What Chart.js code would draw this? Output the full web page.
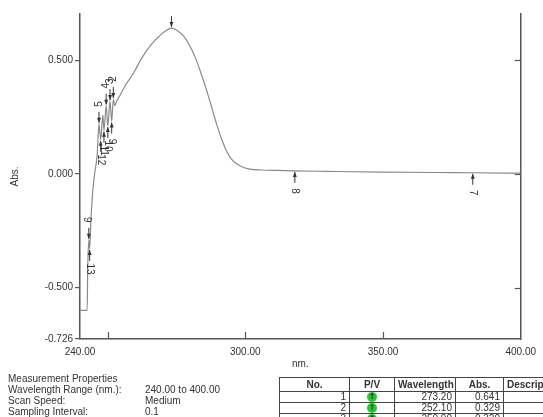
<!DOCTYPE html>
<html>
<head>
<meta charset="utf-8">
<script src="https://cdn.jsdelivr.net/npm/chart.js@4.4.0/dist/chart.umd.min.js"></script>
<style>
  body { margin: 0; background: #fff; }
  #wrap { position: relative; width: 543px; height: 417px; overflow: hidden; font-family: 'Liberation Sans', Arial, sans-serif; color: #333; }
  #graph { position: absolute; left: 0; top: 0; }
  .props { position: absolute; left: 8px; top: 373px; font-size: 10px; line-height: 11px; white-space: nowrap; }
  .props .val { position: absolute; left: 137px; }
  table.peaks { position: absolute; left: 279px; top: 377px; border-collapse: collapse; font-size: 10px; table-layout: fixed; width: 320px; }
  table.peaks th, table.peaks td { border: 1px solid #444; padding: 0 3px; height: 10px; line-height: 10px; white-space: nowrap; overflow: hidden; }
  table.peaks th { height: 13px; font-weight: bold; text-align: center; }
  table.peaks td { text-align: right; }
  table.peaks td.pv { text-align: center; }
  .dot { display: inline-block; width: 10px; height: 10px; border-radius: 50%; background: #2fc42f; color: #043; font-size: 8px; line-height: 10px; text-align: center; font-weight: bold; vertical-align: top; font-family: 'DejaVu Sans', sans-serif; }
</style>
</head>
<body>
<div id="wrap">
  <canvas id="graph" width="543" height="417"></canvas>
  <div class="props">
    <div>Measurement Properties</div>
    <div>Wavelength Range (nm.):<span class="val">240.00 to 400.00</span></div>
    <div>Scan Speed:<span class="val">Medium</span></div>
    <div>Sampling Interval:<span class="val">0.1</span></div>
  </div>
  <table class="peaks" id="peakTable">
    <colgroup><col style="width:70px"><col style="width:45px"><col style="width:61px"><col style="width:48px"><col style="width:96px"></colgroup>
    <tr><th>No.</th><th>P/V</th><th>Wavelength</th><th>Abs.</th><th style="text-align:left">Description</th></tr>
  </table>
</div>
<script>
// spectrum
const wavelengths = [240.0, 242.6, 242.8, 243.2, 243.5, 243.9, 244.6, 245.3, 246.2, 246.9, 247.5, 248.3, 248.7, 249.5, 250.1, 250.9, 251.5, 252.1, 252.6, 253.3, 254.5, 256.5, 259.3, 262.0, 264.2, 267.0, 269.0, 271.0, 273.2, 275.0, 277.5, 280.0, 282.3, 284.0, 286.0, 288.0, 289.6, 291.5, 293.2, 295.0, 297.0, 299.0, 301.7, 306.0, 312.0, 318.0, 330.0, 350.0, 370.0, 382.6, 400.0];
const absorbance = [-0.600, -0.600, -0.420, -0.290, -0.330, -0.220, -0.080, 0.000, 0.080, 0.220, 0.150, 0.260, 0.190, 0.300, 0.210, 0.320, 0.230, 0.329, 0.300, 0.320, 0.345, 0.390, 0.440, 0.500, 0.542, 0.585, 0.608, 0.628, 0.641, 0.633, 0.608, 0.560, 0.498, 0.440, 0.366, 0.285, 0.219, 0.150, 0.101, 0.065, 0.043, 0.030, 0.021, 0.017, 0.015, 0.013, 0.011, 0.008, 0.006, 0.005, 0.003];

// peak / valley markers
const markerNo = [1, 2, 3, 4, 5, 6, 7, 8, 9, 10, 11, 12, 13];
const markerNm = [273.2, 252.1, 250.9, 249.5, 246.9, 243.2, 382.6, 318.0, 251.5, 250.1, 248.7, 247.5, 243.5];
const markerAbs = [0.641, 0.329, 0.320, 0.300, 0.220, -0.290, 0.005, 0.013, 0.230, 0.210, 0.190, 0.150, -0.330];
const markerUp = [true, true, true, true, true, true, false, false, false, false, false, false, false];

// axis ticks
const xTickLabels = [240, 300, 350, 400];
const xInnerTicks = [250, 300, 350];
const yTickLabels = [-0.726, -0.5, 0, 0.5];
const yRightTicks = [0.5, 0, -0.5];

// peak table rows
const tableNo = [1, 2, 3];
const tableNm = [273.20, 252.10, 250.90];
const tableAbs = [0.641, 0.329, 0.320];

const table = document.getElementById('peakTable');
tableNo.forEach(function(n, i) {
    const tr = document.createElement('tr');
    tr.innerHTML = '<td>' + n + '</td><td class="pv"><span class="dot">&#8593;</span></td><td>' +
        tableNm[i].toFixed(2) + '</td><td>' + tableAbs[i].toFixed(3) + '</td><td></td>';
    table.appendChild(tr);
});

Chart.defaults.font.family = "'Liberation Sans', Arial, sans-serif";
Chart.defaults.font.size = 10;
Chart.defaults.color = '#333';

const axisColor = '#555';

// inward ticks + peak arrows
const decor = {
    id: 'decor',
    afterDatasetsDraw(chart) {
        const ctx = chart.ctx;
        const xs = chart.scales.x, ys = chart.scales.y;
        const area = chart.chartArea;
        ctx.save();
        ctx.strokeStyle = axisColor;
        ctx.lineWidth = 1.2;
        xInnerTicks.forEach(function(v) {
            const px = Math.round(xs.getPixelForValue(v)) + 0.5;
            ctx.beginPath(); ctx.moveTo(px, area.bottom); ctx.lineTo(px, area.bottom - 7); ctx.stroke();
        });
        yRightTicks.forEach(function(v) {
            const py = Math.round(ys.getPixelForValue(v)) + 0.5;
            ctx.beginPath(); ctx.moveTo(area.right, py); ctx.lineTo(area.right - 6, py); ctx.stroke();
        });

        ctx.strokeStyle = '#333';
        ctx.fillStyle = '#333';
        ctx.lineWidth = 1;
        ctx.font = "10px 'Liberation Sans', Arial, sans-serif";
        ctx.textAlign = 'center';
        ctx.textBaseline = 'middle';
        markerNo.forEach(function(n, i) {
            const px = xs.getPixelForValue(markerNm[i]);
            const py = ys.getPixelForValue(markerAbs[i]);
            const dir = markerUp[i] ? -1 : 1;
            const tip = py + dir * 1;
            const tail = py + dir * 12;
            ctx.beginPath(); ctx.moveTo(px, tail); ctx.lineTo(px, tip); ctx.stroke();
            ctx.beginPath();
            ctx.moveTo(px, tip);
            ctx.lineTo(px - 2, tip + dir * 5);
            ctx.lineTo(px + 2, tip + dir * 5);
            ctx.closePath(); ctx.fill();
            const ly = py + dir * 20;
            if (ly < area.top) return;
            ctx.save();
            ctx.translate(px, ly);
            ctx.rotate(markerUp[i] ? -Math.PI / 2 : Math.PI / 2);
            ctx.fillText(String(n), 0, 0);
            ctx.restore();
        });
        ctx.restore();
    }
};

const chart = new Chart(document.getElementById('graph'), {
    type: 'line',
    data: {
        datasets: [{
            data: wavelengths.map(function(w, i) { return {x: w, y: absorbance[i]}; }),
            borderColor: '#8a8a8a',
            borderWidth: 1.2,
            pointRadius: 0,
            cubicInterpolationMode: 'monotone',
            fill: false
        }]
    },
    options: {
        responsive: false,
        animation: false,
        layout: { padding: { top: 14, right: 22, bottom: 47, left: 0 } },
        plugins: { legend: { display: false }, tooltip: { enabled: false } },
        scales: {
            x: {
                type: 'linear',
                min: 240, max: 400,
                afterBuildTicks: function(scale) { scale.ticks = xTickLabels.map(function(v) { return {value: v}; }); },
                afterFit: function(scale) { scale.height = 31; },
                ticks: { padding: 7, maxRotation: 0, autoSkip: false, callback: function(v) { return v.toFixed(2); } },
                grid: { display: true, drawOnChartArea: false, drawTicks: false, color: axisColor },
                border: { color: axisColor, width: 1.5 },
                title: { display: true, text: 'nm.', padding: { top: 0, bottom: 0 }, font: { size: 10 } }
            },
            y: {
                type: 'linear',
                min: -0.726, max: 0.703,
                afterBuildTicks: function(scale) { scale.ticks = yTickLabels.map(function(v) { return {value: v}; }); },
                afterFit: function(scale) { scale.width = 80; },
                ticks: { padding: 2, autoSkip: false, callback: function(v) { return v.toFixed(3); } },
                grid: { drawOnChartArea: false, tickLength: 5, color: axisColor, lineWidth: 1.2 },
                border: { color: axisColor, width: 1.5 },
                title: { display: true, text: 'Abs.', padding: { top: 9, bottom: 0 }, font: { size: 10 } }
            },
            y2: {
                type: 'linear',
                position: 'right',
                display: true,
                min: -0.726, max: 0.703,
                afterFit: function(scale) { scale.width = 0; },
                ticks: { display: false },
                grid: { drawOnChartArea: false, drawTicks: false },
                border: { color: axisColor, width: 1.5 }
            }
        }
    },
    plugins: [decor]
});
</script>
</body>
</html>
